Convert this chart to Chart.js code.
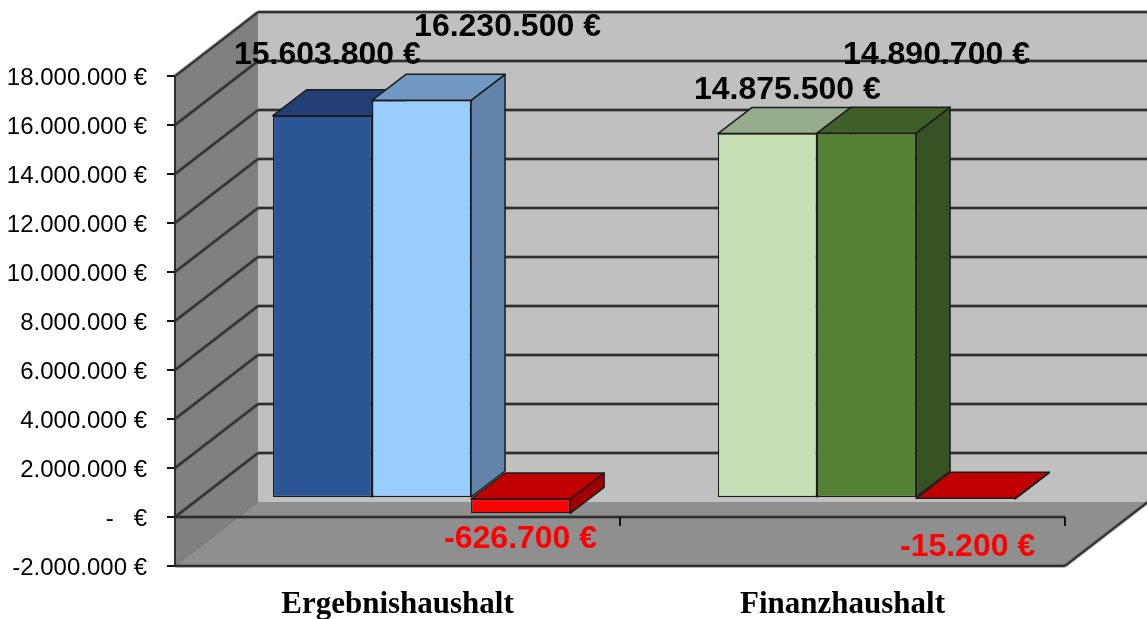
<!DOCTYPE html>
<html>
<head>
<meta charset="utf-8">
<style>
  html, body { margin: 0; padding: 0; background: #fff; overflow: hidden; }
  canvas { display: block; }
</style>
<script src="https://cdn.jsdelivr.net/npm/chart.js@4/dist/chart.umd.min.js"></script>
</head>
<body>
<canvas id="myChart" width="1147" height="619"></canvas>
<script>
const categories = ["Ergebnishaushalt", "Finanzhaushalt"];
const planValues = [15603800, 14875500];
const actualValues = [16230500, 14890700];
const diffValues = [-626700, -15200];
const tickLabels = ["-2.000.000 €", "-   €", "2.000.000 €", "4.000.000 €", "6.000.000 €", "8.000.000 €",
    "10.000.000 €", "12.000.000 €", "14.000.000 €", "16.000.000 €", "18.000.000 €"];

// front, top and side face colours, one per category
const frontColors = [['#2c5595', '#c6dfb4'], ['#99ccff', '#558134'], ['#ff0000', '#ff0000']];
const topColors = [['#223f75', '#97ac8a'], ['#7299c3', '#3f5f28'], ['#c00000', '#c00000']];
const sideColors = [['#223f75', '#97ac8a'], ['#6283aa', '#375222'], ['#a00000', '#a00000']];

// value labels were moved by hand in the original, so offsets are from the bar centre
const labelOffsets = [[[5, -61], [20, -43]], [[86, -73], [70, -78]], [[0, 26], [2, 49]]];
const labelColors = ['#000', '#000', '#ff0000'];

// bars stand halfway into the floor
const barShift = {x: 24, y: -19};
const barDepth = {x: 34, y: -26};
const wallDepth = {x: 83, y: -64};
const lineColor = '#2e2e2e';

function poly(ctx, pts, fill, stroke, width) {
    ctx.beginPath();
    pts.forEach((p, i) => i ? ctx.lineTo(p[0], p[1]) : ctx.moveTo(p[0], p[1]));
    ctx.closePath();
    if (fill) {
        ctx.fillStyle = fill;
        ctx.fill();
    }
    if (stroke) {
        ctx.strokeStyle = stroke;
        ctx.lineWidth = width;
        ctx.lineJoin = 'round';
        ctx.stroke();
    }
}

// dark line with a soft edge, the reference is a bit blurred
function line(ctx, x1, y1, x2, y2, width) {
    ctx.beginPath();
    ctx.moveTo(x1, y1);
    ctx.lineTo(x2, y2);
    ctx.strokeStyle = 'rgba(50,50,50,0.35)';
    ctx.lineWidth = width + 2;
    ctx.stroke();
    ctx.strokeStyle = lineColor;
    ctx.lineWidth = width;
    ctx.stroke();
}

const walls = {
    id: 'walls',
    beforeDraw(chart) {
        const ctx = chart.ctx, a = chart.chartArea, y = chart.scales.y, x = chart.scales.x;
        const dx = wallDepth.x, dy = wallDepth.y;
        ctx.save();
        // back wall runs off the right edge of the picture
        poly(ctx, [[a.left + dx, a.top + dy], [a.right + dx, a.top + dy], [a.right + dx, a.bottom + dy], [a.left + dx, a.bottom + dy]], '#c0c0c0');
        poly(ctx, [[a.left + dx, a.bottom + dy], [a.right + dx, a.bottom + dy], [a.right, a.bottom], [a.left, a.bottom]], '#8f8f8f');
        poly(ctx, [[a.left, a.top], [a.left + dx, a.top + dy], [a.left + dx, a.bottom + dy], [a.left, a.bottom]], '#808080');

        y.ticks.forEach(t => {
            if (t.value < 0) return;
            const py = y.getPixelForValue(t.value);
            line(ctx, a.left, py, a.left + dx, py + dy, 2);
            line(ctx, a.left + dx, py + dy, a.right + dx, py + dy, 2);
        });
        line(ctx, a.left, a.bottom, a.right, a.bottom, 2);
        line(ctx, a.right, a.bottom, a.right + dx, a.bottom + dy, 2);
        ctx.strokeStyle = 'rgba(60,60,60,0.4)';
        ctx.lineWidth = 1;
        ctx.beginPath();
        ctx.moveTo(a.left, a.bottom);
        ctx.lineTo(a.left + dx, a.bottom + dy);
        ctx.stroke();

        // category axis sits on the zero line
        const zero = y.getPixelForValue(0);
        line(ctx, a.left, zero, a.right, zero, 2);
        const mid = (x.getPixelForTick(0) + x.getPixelForTick(1)) / 2;
        ctx.strokeStyle = '#111';
        ctx.lineWidth = 2;
        [a.left, mid, a.right].forEach(px => {
            ctx.beginPath();
            ctx.moveTo(px, zero);
            ctx.lineTo(px, zero + 9);
            ctx.stroke();
        });
        ctx.restore();
    },
    beforeDatasetsDraw(chart) {
        const ctx = chart.ctx;
        ctx.save();
        ctx.translate(barShift.x, barShift.y);
        // left to right so the next bar covers the faces of the previous one
        chart.data.datasets.forEach((ds, i) => {
            chart.getDatasetMeta(i).data.forEach((bar, j) => {
                const p = bar.getProps(['x', 'y', 'base', 'width']);
                const l = p.x - p.width / 2, r = p.x + p.width / 2;
                const top = Math.min(p.y, p.base), bot = Math.max(p.y, p.base);
                const ex = barDepth.x, ey = barDepth.y;
                poly(ctx, [[r, top], [r + ex, top + ey], [r + ex, bot + ey], [r, bot]], sideColors[i][j], '#1c1c1c', 1.5);
                poly(ctx, [[l, top], [l + ex, top + ey], [r + ex, top + ey], [r, top]], topColors[i][j], '#1c1c1c', 1.5);
            });
        });
    },
    afterDatasetsDraw(chart) {
        const ctx = chart.ctx;
        ctx.restore();
        ctx.save();
        ctx.font = 'bold 32px "Liberation Sans"';
        ctx.textAlign = 'center';
        ctx.textBaseline = 'middle';
        chart.data.datasets.forEach((ds, i) => {
            chart.getDatasetMeta(i).data.forEach((bar, j) => {
                const p = bar.getProps(['x', 'y', 'base']);
                const edge = ds.data[j] < 0 ? p.y : Math.min(p.y, p.base);
                const off = labelOffsets[i][j];
                ctx.fillStyle = labelColors[i];
                const text = ds.data[j].toLocaleString('de-DE') + ' €';
                ctx.fillText(text, p.x + barShift.x + off[0], edge + barShift.y + off[1]);
            });
        });
        ctx.restore();
    }
};

function makeDataset(label, values, i) {
    return {
        label: label,
        data: values,
        backgroundColor: frontColors[i],
        borderColor: '#1c1c1c',
        borderWidth: 1.25,
        borderSkipped: false,
        categoryPercentage: 0.668,
        barPercentage: 1
    };
}

new Chart(document.getElementById("myChart"), {
    type: 'bar',
    data: {
        labels: categories,
        datasets: [
            makeDataset("Plan", planValues, 0),
            makeDataset("Ist", actualValues, 1),
            makeDataset("Differenz", diffValues, 2)
        ]
    },
    plugins: [walls],
    options: {
        responsive: false,
        animation: false,
        layout: {padding: {top: 76, right: 82, left: 0, bottom: 0}},
        plugins: {legend: {display: false}, tooltip: {enabled: false}},
        scales: {
            x: {
                grid: {display: false},
                border: {display: false},
                afterFit(scale) { scale.height = 53; },
                ticks: {
                    color: '#000',
                    padding: 12,
                    maxRotation: 0,
                    font: {family: '"Liberation Serif"', size: 31, weight: 'bold'}
                }
            },
            y: {
                min: -2000000,
                max: 18000000,
                afterFit(scale) { scale.width = 175; },
                grid: {drawOnChartArea: false, tickLength: 8, color: '#111', lineWidth: 2},
                border: {display: true, color: lineColor, width: 2},
                ticks: {
                    stepSize: 2000000,
                    color: '#000',
                    padding: 20,
                    labelOffset: 2,
                    font: {family: '"Liberation Sans"', size: 24},
                    callback: (v, i) => tickLabels[i]
                }
            }
        }
    }
});
</script>
</body>
</html>
